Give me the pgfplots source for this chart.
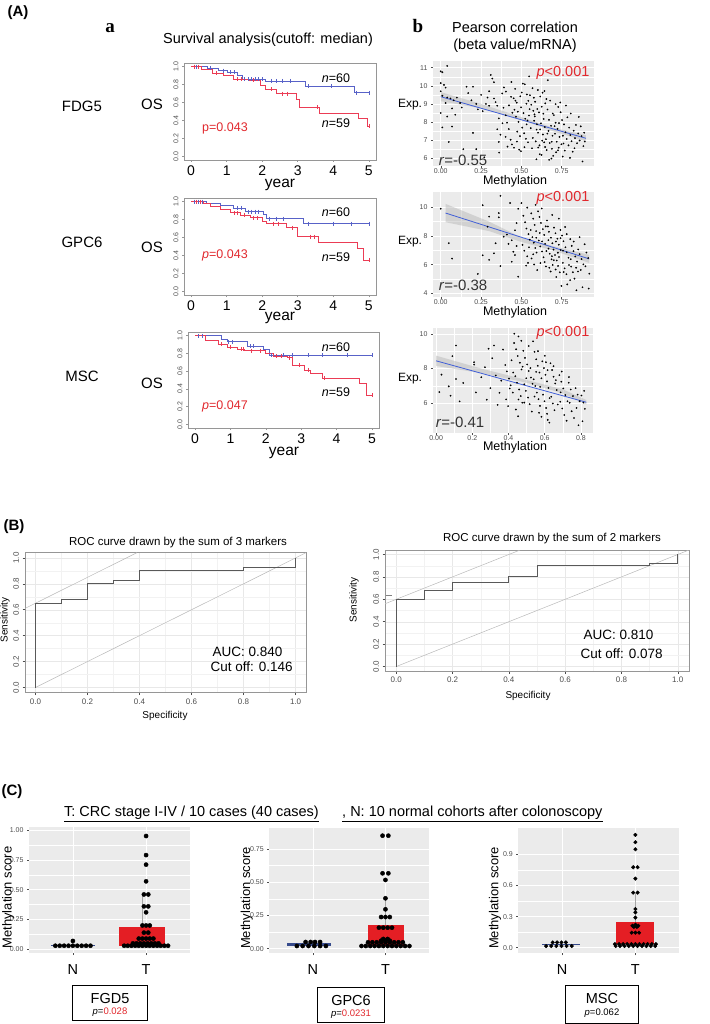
\documentclass[border=0pt]{standalone}
\usepackage{fontspec}
\setmainfont{Liberation Sans}
\newfontfamily\serifbf{Liberation Serif}
\usepackage{pgfplots}
\pgfplotsset{compat=1.18}

\definecolor{kmblue}{RGB}{88,98,200}
\definecolor{kmred}{RGB}{235,60,85}
\definecolor{pred}{RGB}{225,40,45}
\definecolor{ggbg}{RGB}{235,235,235}
\definecolor{boxred}{RGB}{228,30,36}
\definecolor{boxblue}{RGB}{55,75,140}
\definecolor{lmblue}{RGB}{65,95,215}
\definecolor{gtext}{RGB}{77,77,77}
\definecolor{framegray}{RGB}{150,150,150}

\def\fs#1{\fontsize{#1}{#1}\selectfont}

\pgfplotsset{
  /pgf/number format/assume math mode=true,
  onedec/.style={/pgf/number format/fixed, /pgf/number format/fixed zerofill, /pgf/number format/precision=1},
  km/.style={scale only axis, width=192pt, height=97pt,
    xmin=-0.2, xmax=5.2, ymin=-0.04, ymax=1.04,
    axis line style={draw=framegray, line width=0.8pt},
    xtick={0,1,2,3,4,5}, ytick={0,0.2,0.4,0.6,0.8,1},
    yticklabel style={rotate=90, anchor=south, font=\fs{7}, text=gtext, onedec},
    xticklabel style={font=\fs{14}},
    tick align=outside, major tick length=2pt,
    tick style={framegray, line width=0.6pt},
    xtick pos=bottom, ytick pos=left},
  gg/.style={scale only axis,
    axis background/.style={fill=ggbg},
    axis line style={draw=none},
    grid=both, major grid style={white, line width=0.7pt},
    minor grid style={white, line width=0.35pt},
    tick align=outside, major tick length=2pt, minor tick length=0pt,
    tick style={gtext, line width=0.5pt},
    xtick pos=bottom, ytick pos=left,
    ticklabel style={font=\fs{7}, text=gtext}},
  ggsc/.style={gg, minor tick num=1, xticklabel style={yshift=3pt}},
  roc/.style={scale only axis,
    xmin=-0.04, xmax=1.04, ymin=-0.04, ymax=1.04,
    axis line style={draw=framegray, line width=0.8pt},
    grid=both, major grid style={gray!18, line width=0.4pt},
    minor grid style={gray!10, line width=0.3pt}, minor tick num=1,
    tick align=outside, major tick length=2.5pt, minor tick length=0pt,
    tick style={gtext, line width=0.5pt},
    xtick={0,0.2,0.4,0.6,0.8,1}, ytick={0,0.2,0.4,0.6,0.8,1},
    xtick pos=bottom, ytick pos=left,
    ticklabel style={font=\fs{8}, text=gtext, onedec},
    yticklabel style={rotate=90, anchor=south}},
  km line/.style={const plot, line width=0.7pt},
  km cens/.style={only marks, mark=|, mark size=2pt, mark options={line width=0.5pt}},
  pts/.style={only marks, mark=*, mark size=0.65pt, black},
}

\begin{document}
\begin{tikzpicture}
\useasboundingbox (0,0) rectangle (709pt,-1024pt);

% ---------------- (A) headers
\node[font=\bfseries\fs{15}] at (18pt,-12.5pt) {(A)};
\node[font=\serifbf\bfseries\fs{19}] at (110pt,-28pt) {a};
\node[font=\serifbf\bfseries\fs{19}] at (418pt,-26pt) {b};
\node[font=\fs{14.5}] at (268pt,-40pt) {Survival analysis(cutoff: median)};
\node[font=\fs{14.5}] at (515pt,-27pt) {Pearson correlation};
\node[font=\fs{14.5}] at (515pt,-46pt) {(beta value/mRNA)};

\node[font=\fs{15}] at (82pt,-106pt) {FDG5};
\node[font=\fs{15}] at (152pt,-104pt) {OS};
\node[font=\fs{15}] at (82pt,-242pt) {GPC6};
\node[font=\fs{15}] at (152pt,-247pt) {OS};
\node[font=\fs{15}] at (82pt,-376pt) {MSC};
\node[font=\fs{15}] at (152pt,-383pt) {OS};

% ---------------- KM 1
\begin{axis}[km, at={(184pt,-160pt)}, anchor=south west]
\addplot[km line, kmblue] coordinates {(0,1)(0.45,0.98)(0.78,0.955)(1.02,0.935)(1.3,0.9)(1.45,0.86)(2.1,0.84)(3.2,0.78)(4.6,0.71)(5,0.71)};
\addplot[km line, kmred] coordinates {(0,1)(0.3,0.97)(0.6,0.93)(0.9,0.9)(1.2,0.86)(1.6,0.85)(1.95,0.79)(2.1,0.745)(2.4,0.70)(2.95,0.63)(3.05,0.55)(3.6,0.48)(4.7,0.42)(4.95,0.34)(5,0.34)};
\addplot[km cens, kmblue] coordinates {(0.08,1)(0.15,1)(0.55,0.98)(0.9,0.955)(1.1,0.935)(1.2,0.935)(1.5,0.86)(1.6,0.86)(1.7,0.86)(1.8,0.86)(1.9,0.86)(2.0,0.86)(2.25,0.84)(2.4,0.84)(2.55,0.84)(2.8,0.84)(3.3,0.78)(3.95,0.78)(4.65,0.71)(5,0.71)};
\addplot[km cens, kmred] coordinates {(0.1,1)(0.2,1)(0.7,0.93)(1.3,0.86)(1.4,0.86)(1.75,0.85)(2.25,0.745)(2.55,0.70)(2.7,0.70)(3.55,0.55)(5,0.34)};
\end{axis}
\node[font=\fs{12.5}] at (336pt,-78pt) {\textit{n}=60};
\node[font=\fs{12.5}] at (336pt,-123pt) {\textit{n}=59};
\node[font=\fs{12.5}, text=pred] at (225pt,-128pt) {p=0.043};
\node[font=\fs{15.5}] at (280pt,-185pt) {year};

% ---------------- KM 2
\begin{axis}[km, at={(184pt,-295pt)}, anchor=south west]
\addplot[km line, kmblue] coordinates {(0,1)(0.44,0.98)(0.82,0.96)(1.2,0.93)(1.52,0.887)(2.04,0.857)(2.13,0.81)(3.16,0.755)(5,0.755)};
\addplot[km line, kmred] coordinates {(0,1)(0.35,0.98)(0.53,0.95)(0.82,0.913)(1.1,0.875)(1.38,0.85)(1.66,0.82)(1.99,0.78)(2.13,0.755)(2.69,0.71)(2.98,0.61)(3.59,0.543)(4.67,0.48)(4.85,0.35)(5,0.35)};
\addplot[km cens, kmblue] coordinates {(0.1,1)(0.2,1)(0.3,1)(1.3,0.93)(1.4,0.93)(1.6,0.887)(1.7,0.887)(1.8,0.887)(1.9,0.887)(2.2,0.81)(2.4,0.81)(2.6,0.81)(3.3,0.755)(4.0,0.755)(4.5,0.755)(5,0.755)};
\addplot[km cens, kmred] coordinates {(0.15,1)(0.25,1)(1.2,0.875)(1.3,0.875)(1.5,0.85)(1.75,0.82)(1.85,0.82)(2.3,0.755)(2.45,0.755)(2.85,0.71)(3.35,0.61)(3.45,0.61)(5,0.35)};
\end{axis}
\node[font=\fs{12.5}] at (336pt,-212pt) {\textit{n}=60};
\node[font=\fs{12.5}] at (336pt,-257pt) {\textit{n}=59};
\node[font=\fs{12.5}, text=pred] at (225pt,-255pt) {\textit{p}=0.043};
\node[font=\fs{15.5}] at (280pt,-318pt) {year};

% ---------------- KM 3
\begin{axis}[km, width=191pt, height=96pt, at={(188pt,-428pt)}, anchor=south west]
\addplot[km line, kmblue] coordinates {(0,1)(0.75,0.96)(0.9,0.93)(1.47,0.88)(1.94,0.84)(2.1,0.78)(5,0.78)};
\addplot[km line, kmred] coordinates {(0,1)(0.3,0.95)(0.65,0.9)(0.9,0.87)(1.2,0.85)(1.4,0.83)(2.0,0.80)(2.2,0.765)(2.6,0.75)(2.75,0.67)(3.1,0.614)(3.25,0.577)(3.6,0.52)(4.65,0.465)(4.85,0.33)(5,0.33)};
\addplot[km cens, kmblue] coordinates {(0.1,1)(0.2,1)(0.95,0.93)(1.05,0.93)(1.55,0.88)(1.65,0.88)(2.15,0.78)(2.5,0.78)(2.75,0.78)(3.2,0.78)(3.6,0.78)(4.3,0.78)(5,0.78)};
\addplot[km cens, kmred] coordinates {(0.75,0.9)(1.0,0.87)(1.3,0.85)(1.35,0.85)(1.6,0.83)(1.85,0.83)(2.3,0.765)(2.45,0.765)(2.65,0.75)(2.95,0.67)(3.2,0.614)(3.65,0.52)(5,0.33)};
\end{axis}
\node[font=\fs{12.5}] at (336pt,-347pt) {\textit{n}=60};
\node[font=\fs{12.5}] at (336pt,-392pt) {\textit{n}=59};
\node[font=\fs{12.5}, text=pred] at (225pt,-406pt) {\textit{p}=0.047};
\node[font=\fs{15.5}] at (284pt,-453pt) {year};

% ---------------- scatter b1
\begin{axis}[ggsc, at={(433pt,-166pt)}, anchor=south west, width=161pt, height=105pt,
  xmin=-0.048, xmax=0.95, ymin=5.57, ymax=11.37,
  xtick={0,0.25,0.5,0.75}, xticklabels={0.00,0.25,0.50,0.75},
  ytick={6,7,8,9,10,11}]
\addplot[pts] coordinates {
(0.00,10.8)(0.01,10.75)(0.04,11.1)(0.00,10.15)(0.02,10.05)(0.03,9.9)(0.00,9.7)(0.01,9.45)(0.04,9.35)(0.06,9.3)
(0.00,8.5)(0.04,8.3)(0.01,7.7)(0.07,7.75)(0.03,9.05)(0.08,9.2)(0.10,9.35)(0.12,9.05)(0.07,8.75)(0.13,8.8)
(0.16,9.95)(0.20,9.95)(0.19,9.2)(0.22,9.0)(0.23,8.7)(0.26,8.6)(0.28,9.0)(0.30,8.9)(0.31,10.6)(0.32,10.4)
(0.33,10.2)(0.30,9.7)(0.33,9.3)(0.34,9.1)(0.35,8.9)(0.36,8.2)(0.35,7.6)(0.37,7.3)(0.36,6.9)(0.20,7.4)
(0.14,6.5)(0.22,6.5)(0.27,6.05)(0.17,9.6)(0.25,9.5)(0.29,9.35)(0.05,6.9)(0.09,8.4)
(0.381,9.58)(0.392,9.91)(0.403,8.37)(0.411,7.96)(0.422,7.61)(0.433,7.02)(0.441,6.76)(0.452,9.31)(0.463,9.18)(0.471,9.07)
(0.457,8.68)(0.466,8.29)(0.482,8.01)(0.474,7.47)(0.491,7.22)(0.454,6.58)(0.486,6.47)(0.502,9.63)(0.509,10.12)(0.521,10.08)
(0.498,8.81)(0.513,8.49)(0.524,8.18)(0.532,7.87)(0.505,7.69)(0.517,7.38)(0.528,7.07)(0.541,6.88)(0.519,6.61)(0.497,6.39)
(0.423,8.92)(0.436,9.39)(0.444,8.51)(0.402,7.18)(0.414,6.64)(0.389,8.79)(0.543,9.17)(0.551,8.71)(0.547,8.36)(0.538,8.08)
(0.531,9.01)(0.478,8.57)(0.493,9.42)(0.404,9.68)(0.438,10.21)(0.461,9.83)(0.383,7.93)(0.472,6.92)(0.362,6.31)
(0.561,8.95)(0.574,8.62)(0.583,8.31)(0.596,7.88)(0.603,7.41)(0.558,7.66)(0.571,7.12)(0.589,6.93)(0.594,7.58)(0.612,6.71)
(0.566,6.55)(0.579,8.07)(0.585,9.12)(0.617,9.41)(0.626,8.84)(0.638,8.17)(0.645,7.72)(0.652,7.05)(0.609,8.53)(0.621,7.93)
(0.633,7.31)(0.641,6.88)(0.657,6.45)(0.614,6.22)(0.629,6.97)(0.636,8.46)(0.648,9.03)(0.662,8.69)(0.671,8.12)(0.684,7.79)
(0.693,7.24)(0.668,7.51)(0.676,6.84)(0.689,6.52)(0.697,6.13)(0.672,5.91)(0.686,5.98)(0.701,8.38)(0.712,7.96)(0.724,7.62)
(0.736,7.18)(0.748,6.77)(0.708,7.35)(0.719,6.91)(0.731,6.58)(0.743,8.54)(0.752,8.11)(0.715,6.33)(0.728,8.83)(0.764,7.87)
(0.773,7.43)(0.781,7.06)(0.792,6.71)(0.769,6.42)(0.785,8.26)(0.796,7.69)(0.803,7.28)(0.811,6.94)(0.824,7.52)(0.832,7.11)
(0.845,6.83)(0.818,6.36)(0.838,7.84)(0.852,7.37)(0.861,6.98)(0.873,7.22)(0.884,6.67)(0.893,6.92)(0.879,5.82)(0.756,6.09)
(0.801,6.02)(0.602,9.77)(0.577,9.34)(0.553,9.48)(0.631,9.62)(0.655,9.27)(0.741,9.08)(0.776,8.91)(0.856,8.28)(0.868,7.76)
(0.889,7.41)(0.593,5.94)(0.625,6.18)(0.569,9.87)(0.664,10.31)(0.548,10.52)(0.534,9.52)(0.643,9.71)(0.661,7.36)(0.694,8.47)
(0.706,7.77)(0.733,7.94)(0.757,7.24)(0.712,8.99)(0.678,9.18)(0.598,8.72)(0.616,7.59)(0.647,6.62)(0.727,6.44)(0.761,6.81)
(0.806,8.47)(0.829,6.55)(0.581,8.42)(0.604,6.59)(0.688,6.91)};
\addplot[fill=gray!60, fill opacity=0.45, draw=none] coordinates {(0,9.65)(0.25,9.0)(0.5,8.27)(0.7,7.68)(0.9,7.27)(0.9,6.93)(0.7,7.48)(0.5,8.11)(0.25,8.76)(0,9.15)};
\addplot[lmblue, line width=0.8pt] coordinates {(0,9.4)(0.9,7.1)};
\end{axis}
\node[font=\fs{12}] at (410pt,-105pt) {Exp.};
\node[font=\fs{12.5}] at (515pt,-181pt) {Methylation};
\node[font=\fs{14.5}, text=pred] at (563pt,-73pt) {\textit{p}<0.001};
\node[font=\fs{15}, text=black!80] at (463pt,-160pt) {\textit{r}=-0.55};

% ---------------- scatter b2
\begin{axis}[ggsc, at={(433pt,-297pt)}, anchor=south west, width=161pt, height=105pt,
  xmin=-0.048, xmax=0.95, ymin=3.74, ymax=11.07,
  xtick={0,0.25,0.5,0.75}, xticklabels={0.00,0.25,0.50,0.75},
  ytick={4,6,8,10}]
\addplot[pts] coordinates {
(0.00,9.9)(0.26,10.15)(0.37,10.8)(0.43,10.3)(0.50,10.3)(0.30,9.35)(0.36,9.3)(0.36,9.6)(0.29,8.65)(0.05,7.5)
(0.07,6.42)(0.26,6.65)(0.30,6.33)(0.33,6.79)(0.34,7.49)(0.23,5.35)(0.37,5.9)(0.48,5.16)(0.39,7.95)(0.46,6.67)
(0.41,8.1)(0.44,7.7)(0.42,7.45)(0.45,6.9)(0.47,7.3)(0.44,6.2)(0.47,8.9)(0.48,9.9)(0.46,8.4)
(0.512,9.41)(0.523,8.96)(0.531,8.52)(0.544,8.13)(0.552,7.74)(0.507,7.38)(0.518,6.97)(0.536,6.58)(0.541,6.12)(0.529,5.93)
(0.561,9.58)(0.573,9.21)(0.582,8.77)(0.591,8.34)(0.568,7.92)(0.577,7.53)(0.586,7.16)(0.594,6.84)(0.563,6.43)(0.579,6.01)
(0.598,5.62)(0.603,9.72)(0.612,9.33)(0.621,8.91)(0.633,8.48)(0.641,8.07)(0.608,7.68)(0.617,7.27)(0.628,6.92)(0.637,6.51)
(0.644,6.18)(0.652,5.87)(0.659,9.08)(0.664,8.66)(0.671,8.29)(0.683,7.88)(0.692,7.49)(0.668,7.12)(0.676,6.76)(0.687,6.37)
(0.694,5.98)(0.681,5.52)(0.702,8.58)(0.711,8.19)(0.723,7.81)(0.732,7.39)(0.744,7.02)(0.708,6.67)(0.719,6.29)(0.727,5.91)
(0.738,5.46)(0.716,5.14)(0.752,8.03)(0.761,7.63)(0.773,7.21)(0.781,6.86)(0.792,6.48)(0.757,6.12)(0.768,5.74)(0.779,5.33)
(0.784,4.62)(0.748,4.51)(0.803,7.78)(0.812,7.31)(0.823,6.94)(0.834,6.57)(0.845,6.21)(0.808,5.86)(0.819,5.47)(0.829,5.02)
(0.841,4.21)(0.852,7.06)(0.861,6.73)(0.873,6.39)(0.884,6.02)(0.868,5.63)(0.879,4.42)(0.892,7.42)(0.903,6.84)(0.914,6.46)
(0.921,5.37)(0.917,4.33)(0.897,5.88)(0.802,4.92)(0.626,9.92)(0.691,9.47)(0.732,9.21)(0.771,8.63)(0.536,9.98)(0.588,10.17)
(0.647,7.45)(0.699,7.05)(0.714,7.61)(0.726,6.83)(0.743,7.85)(0.758,6.97)(0.689,6.59)(0.667,7.71)(0.655,6.95)(0.701,6.31)
(0.733,6.53)(0.806,6.38)(0.824,7.61)(0.851,5.52)(0.573,6.72)(0.614,8.21)(0.558,8.42)(0.673,5.78)(0.762,5.48)(0.795,5.97)
(0.839,5.78)(0.618,6.11)(0.712,5.66)(0.651,8.67)(0.628,7.62)(0.592,7.88)(0.547,7.21)(0.742,8.42)(0.781,8.13)(0.861,7.92)};
\addplot[fill=gray!60, fill opacity=0.45, draw=none] coordinates {(0.03,10.24)(0.3,9.0)(0.5,7.9)(0.7,7.28)(0.92,6.68)(0.92,6.12)(0.7,6.98)(0.5,7.58)(0.3,8.34)(0.03,8.96)};
\addplot[lmblue, line width=0.8pt] coordinates {(0.03,9.6)(0.92,6.4)};
\end{axis}
\node[font=\fs{12}] at (410pt,-242pt) {Exp.};
\node[font=\fs{12.5}] at (515pt,-312pt) {Methylation};
\node[font=\fs{14.5}, text=pred] at (563pt,-198pt) {\textit{p}<0.001};
\node[font=\fs{15}, text=black!80] at (463pt,-285pt) {\textit{r}=-0.38};

% ---------------- scatter b3
\begin{axis}[ggsc, at={(433pt,-433pt)}, anchor=south west, width=160pt, height=105pt,
  xmin=-0.017, xmax=0.867, ymin=4.27, ymax=10.35,
  xtick={0,0.2,0.4,0.6,0.8}, xticklabels={0.00,0.2,0.4,0.6,0.8},
  ytick={6,8,10}]
\addplot[pts] coordinates {
(0.018,6.64)(0.03,7.65)(0.07,6.97)(0.08,6.43)(0.13,6.1)(0.11,7.4)(0.09,8.72)(0.15,7.17)(0.21,8.37)(0.21,8.23)
(0.11,9.34)(0.27,8.08)(0.22,6.62)(0.28,6.2)(0.30,6.87)(0.29,9.15)(0.32,9.34)(0.25,7.5)(0.33,7.6)(0.34,5.9)
(0.31,8.6)(0.36,7.3)(0.37,9.1)(0.35,6.6)
(0.382,8.21)(0.391,7.84)(0.403,7.42)(0.412,7.03)(0.424,6.61)(0.387,6.22)(0.398,5.83)(0.431,9.48)(0.442,9.12)(0.451,8.73)
(0.463,8.34)(0.472,7.95)(0.438,7.56)(0.447,7.18)(0.459,6.79)(0.468,6.41)(0.476,6.02)(0.441,5.63)(0.453,5.24)(0.482,9.03)
(0.491,8.62)(0.503,8.24)(0.512,7.86)(0.524,7.48)(0.487,7.09)(0.496,6.71)(0.508,6.32)(0.517,5.94)(0.529,5.51)(0.536,9.58)
(0.544,8.97)(0.553,8.54)(0.562,8.16)(0.571,7.77)(0.539,7.38)(0.548,6.99)(0.557,6.61)(0.566,6.23)(0.574,5.84)(0.582,5.21)
(0.587,8.42)(0.596,8.03)(0.604,7.64)(0.613,7.26)(0.621,6.88)(0.591,6.49)(0.599,6.11)(0.608,5.72)(0.617,5.03)(0.626,4.87)
(0.632,8.31)(0.641,7.92)(0.649,7.53)(0.658,7.14)(0.667,6.76)(0.636,6.37)(0.645,5.98)(0.654,5.59)(0.681,7.62)(0.692,7.24)
(0.703,6.85)(0.714,6.47)(0.686,6.08)(0.697,5.69)(0.708,5.31)(0.721,4.98)(0.733,7.18)(0.744,6.79)(0.756,6.41)(0.738,6.02)
(0.749,5.53)(0.762,5.14)(0.771,6.87)(0.782,6.49)(0.793,6.11)(0.776,5.72)(0.787,4.72)(0.803,6.44)(0.814,6.03)(0.822,5.67)
(0.809,4.95)(0.818,6.71)(0.455,9.86)(0.432,10.02)(0.471,9.61)(0.512,9.31)(0.563,9.01)(0.601,8.74)(0.478,8.11)(0.521,8.03)
(0.533,7.12)(0.582,7.44)(0.616,7.91)(0.662,7.33)(0.688,6.62)(0.726,6.11)(0.487,6.03)(0.544,6.38)(0.575,6.94)(0.627,6.29)
(0.672,5.92)(0.455,6.21)(0.498,7.44)(0.553,7.81)(0.607,8.37)(0.649,8.14)(0.694,7.83)(0.734,7.51)(0.417,8.48)(0.426,7.77)
(0.407,6.85)(0.569,5.44)(0.613,5.38)};
\addplot[fill=gray!60, fill opacity=0.45, draw=none] coordinates {(0,8.75)(0.25,8.0)(0.5,7.34)(0.7,6.8)(0.83,6.18)(0.83,5.92)(0.7,6.56)(0.5,7.18)(0.25,7.74)(0,8.15)};
\addplot[lmblue, line width=0.8pt] coordinates {(0,8.45)(0.83,6.05)};
\end{axis}
\node[font=\fs{12}] at (410pt,-379pt) {Exp.};
\node[font=\fs{12.5}] at (515pt,-447pt) {Methylation};
\node[font=\fs{14.5}, text=pred] at (563pt,-333pt) {\textit{p}<0.001};
\node[font=\fs{15}, text=black!80] at (460pt,-422pt) {\textit{r}=-0.41};

% ---------------- (B) ROC
\node[font=\bfseries\fs{15}] at (14pt,-527pt) {(B)};
\begin{axis}[roc, at={(25pt,-692.7pt)}, anchor=south west, width=281pt, height=140pt]
\addplot[gray!55, line width=0.5pt] coordinates {(0,0)(1.04,1.04)};
\addplot[gray!55, line width=0.5pt] coordinates {(-0.04,0.61)(0.39,1.04)};
\addplot[black!65, line width=1pt] coordinates {(0,0)(0,0.65)(0.1,0.65)(0.1,0.677)(0.2,0.677)(0.2,0.806)(0.3,0.806)(0.3,0.827)(0.4,0.827)(0.4,0.904)(0.8,0.904)(0.8,0.928)(1,0.928)(1,1)};
\end{axis}
\node[font=\fs{11.5}] at (178pt,-543pt) {ROC curve drawn by the sum of 3 markers};
\node[font=\fs{13.5}, anchor=west] at (209pt,-651.7pt) {AUC: 0.840};
\node[font=\fs{13.5}, anchor=west] at (207pt,-667pt) {Cut off: 0.146};
\node[font=\fs{10}, rotate=90] at (5pt,-620pt) {Sensitivity};
\node[font=\fs{10}] at (165pt,-716pt) {Specificity};

\begin{axis}[roc, at={(385pt,-671pt)}, anchor=south west, width=304pt, height=121pt]
\addplot[gray!55, line width=0.5pt] coordinates {(0,0)(1.04,1.04)};
\addplot[gray!55, line width=0.5pt] coordinates {(-0.04,0.56)(0.44,1.04)};
\addplot[black!65, line width=1pt] coordinates {(0,0)(0,0.6)(0.1,0.6)(0.1,0.675)(0.2,0.675)(0.2,0.75)(0.4,0.75)(0.4,0.8)(0.5,0.8)(0.5,0.9)(0.9,0.9)(0.9,0.922)(1,0.922)(1,1)};
\addplot[gray, line width=0.4pt] coordinates {(-0.035,0.64)(-0.015,0.64)};
\end{axis}
\node[font=\fs{11.5}] at (552pt,-539pt) {ROC curve drawn by the sum of 2 markers};
\node[font=\fs{13.5}, anchor=west] at (580pt,-635pt) {AUC: 0.810};
\node[font=\fs{13.5}, anchor=west] at (577pt,-654pt) {Cut off: 0.078};
\node[font=\fs{10}, rotate=90] at (354pt,-600pt) {Sensitivity};
\node[font=\fs{10}] at (528pt,-696pt) {Specificity};

% ---------------- (C)
\node[font=\bfseries\fs{15}] at (12pt,-792pt) {(C)};
\node[font=\fs{14.5}, anchor=base west, inner sep=0pt] at (64pt,-816.5pt) {\underline{T: CRC stage I-IV / 10 cases (40 cases)}};
\node[font=\fs{14.5}, anchor=base west, inner sep=0pt] at (342pt,-816.5pt) {\underline{, N: 10 normal cohorts after colonoscopy}};

% C1 FGD5
\begin{axis}[gg, at={(29pt,-953pt)}, anchor=south west, width=161pt, height=126.3pt,
  xmin=0.4, xmax=2.6, ymin=-0.031, ymax=1.028,
  xtick={1,2}, xticklabels={N,T}, ytick={0,0.25,0.5,0.75,1},
  yticklabels={0.00,0.25,0.50,0.75,1.00}, minor x tick num=0, minor y tick num=1,
  xticklabel style={font=\fs{14.5}, text=black, yshift=-6pt}]
\addplot[boxblue, line width=0.6pt] coordinates {(0.7,0.03)(1.3,0.03)};
\addplot[fill=boxred, draw=none] coordinates {(1.63,0.03)(2.26,0.03)(2.26,0.19)(1.63,0.19)};
\addplot[gray!70, line width=0.6pt] coordinates {(1.945,0.19)(1.945,0.46)};
\addplot[only marks, mark=*, mark size=2.1pt, black] coordinates {
(0.76,0.03)(0.82,0.03)(0.88,0.03)(0.94,0.03)(1.0,0.03)(1.06,0.03)(1.12,0.03)(1.18,0.03)(1.24,0.03)(1.0,0.07)
(2.0,0.95)(2.0,0.79)(2.0,0.71)(2.0,0.57)(1.97,0.46)(2.03,0.46)(1.97,0.36)(2.03,0.36)(2.0,0.31)
(1.95,0.20)(2.0,0.20)(2.05,0.20)(1.97,0.14)(2.03,0.14)
(1.9,0.09)(1.95,0.09)(2.0,0.09)(2.05,0.09)(2.1,0.09)
(1.82,0.05)(1.87,0.05)(1.92,0.05)(1.97,0.05)(2.02,0.05)(2.07,0.05)(2.12,0.05)(2.17,0.05)
(1.7,0.03)(1.75,0.03)(1.8,0.03)(1.85,0.03)(1.9,0.03)(1.95,0.03)(2.0,0.03)(2.05,0.03)(2.1,0.03)(2.15,0.03)(2.2,0.03)(2.25,0.03)(2.3,0.03)};
\end{axis}
\node[font=\fs{13}, rotate=90] at (8.3pt,-897.5pt) {Methylation score};
\draw[line width=0.8pt] (72.7pt,-985.7pt) rectangle (147.7pt,-1020pt);
\node[font=\fs{14.5}] at (110pt,-998pt) {FGD5};
\node[font=\fs{9.5}] at (110pt,-1012pt) {\textit{p}=\textcolor{pred}{0.028}};

% C2 GPC6
\begin{axis}[gg, at={(269.3pt,-953.3pt)}, anchor=south west, width=159.7pt, height=125.6pt,
  xmin=0.4, xmax=2.6, ymin=-0.035, ymax=0.91,
  xtick={1,2}, xticklabels={N,T}, ytick={0,0.25,0.5,0.75},
  yticklabels={0.00,0.25,0.50,0.75}, minor x tick num=0, minor y tick num=1,
  xticklabel style={font=\fs{14.5}, text=black, yshift=-6pt}]
\addplot[fill=boxblue, draw=none] coordinates {(0.64,0.022)(1.25,0.022)(1.25,0.04)(0.64,0.04)};
\addplot[fill=boxred, draw=none] coordinates {(1.757,0.02)(2.25,0.02)(2.25,0.178)(1.757,0.178)};
\addplot[gray!70, line width=0.6pt] coordinates {(2.0,0.178)(2.0,0.379)};
\addplot[only marks, mark=*, mark size=2.1pt, black] coordinates {
(0.9,0.05)(0.97,0.05)(1.03,0.05)(1.1,0.05)
(0.78,0.02)(0.86,0.02)(0.94,0.02)(1.02,0.02)(1.1,0.02)(1.18,0.02)
(1.96,0.85)(2.04,0.85)(1.96,0.567)(2.04,0.567)(2.0,0.517)(2.0,0.379)(2.0,0.296)
(1.94,0.238)(2.0,0.238)(2.06,0.238)(1.91,0.158)(1.97,0.158)(2.03,0.158)(2.09,0.158)
(1.97,0.073)(2.03,0.073)(1.94,0.06)(2.0,0.06)(2.06,0.06)
(1.76,0.048)(1.82,0.048)(1.88,0.048)(1.94,0.048)(2.0,0.048)(2.06,0.048)(2.12,0.048)(2.18,0.048)(2.24,0.048)
(1.67,0.02)(1.73,0.02)(1.79,0.02)(1.85,0.02)(1.91,0.02)(1.97,0.02)(2.03,0.02)(2.09,0.02)(2.15,0.02)(2.21,0.02)(2.27,0.02)(2.33,0.02)};
\end{axis}
\node[font=\fs{13}, rotate=90] at (246.7pt,-898pt) {Methylation score};
\draw[line width=0.8pt] (317.7pt,-987pt) rectangle (384.3pt,-1022pt);
\node[font=\fs{14.5}] at (351pt,-1000pt) {GPC6};
\node[font=\fs{9.5}] at (351pt,-1014pt) {\textit{p}=\textcolor{pred}{0.0231}};

% C3 MSC
\begin{axis}[gg, at={(518.3pt,-953.3pt)}, anchor=south west, width=161pt, height=125.6pt,
  xmin=0.4, xmax=2.6, ymin=-0.054, ymax=1.157,
  xtick={1,2}, xticklabels={N,T}, ytick={0,0.3,0.6,0.9},
  yticklabels={0.0,0.3,0.6,0.9}, minor x tick num=0, minor y tick num=1,
  xticklabel style={font=\fs{14.5}, text=black, yshift=-6pt}]
\addplot[fill=boxblue, draw=none] coordinates {(0.73,0.025)(1.24,0.025)(1.24,0.04)(0.73,0.04)};
\addplot[fill=boxred, draw=none] coordinates {(1.73,0.04)(2.26,0.04)(2.26,0.25)(1.73,0.25)};
\addplot[gray!70, line width=0.6pt] coordinates {(2.0,0.25)(2.0,0.531)};
\addplot[only marks, mark=*, mark size=1.8pt, black] coordinates {
(0.87,0.051)(0.93,0.051)(0.99,0.051)(1.05,0.051)
(0.78,0.016)(0.85,0.016)(0.92,0.016)(0.99,0.016)(1.06,0.016)(1.13,0.016)
(2.0,1.088)(2.0,1.017)(2.0,0.949)(1.97,0.776)(2.03,0.776)(2.0,0.666)(1.97,0.531)(2.03,0.531)
(2.0,0.373)(2.0,0.341)(2.0,0.29)(1.96,0.212)(2.0,0.222)(2.04,0.212)(1.98,0.2)(2.02,0.2)
(1.95,0.145)(2.0,0.145)(2.05,0.145)
(1.72,0.035)(1.776,0.035)(1.832,0.035)(1.888,0.035)(1.944,0.035)(2.0,0.035)(2.056,0.035)(2.112,0.035)(2.168,0.035)(2.224,0.035)(2.28,0.035)
(1.73,0.016)(1.79,0.016)(1.85,0.016)(1.91,0.016)(1.97,0.016)(2.03,0.016)(2.09,0.016)(2.15,0.016)(2.21,0.016)(2.27,0.016)};
\end{axis}
\node[font=\fs{13}, rotate=90] at (495pt,-898pt) {Methylation score};
\draw[line width=0.8pt] (565.7pt,-985.7pt) rectangle (638.3pt,-1023.3pt);
\node[font=\fs{14.5}] at (602pt,-998pt) {MSC};
\node[font=\fs{9.5}] at (602pt,-1013pt) {\textit{p}=0.062};

\end{tikzpicture}
\end{document}
